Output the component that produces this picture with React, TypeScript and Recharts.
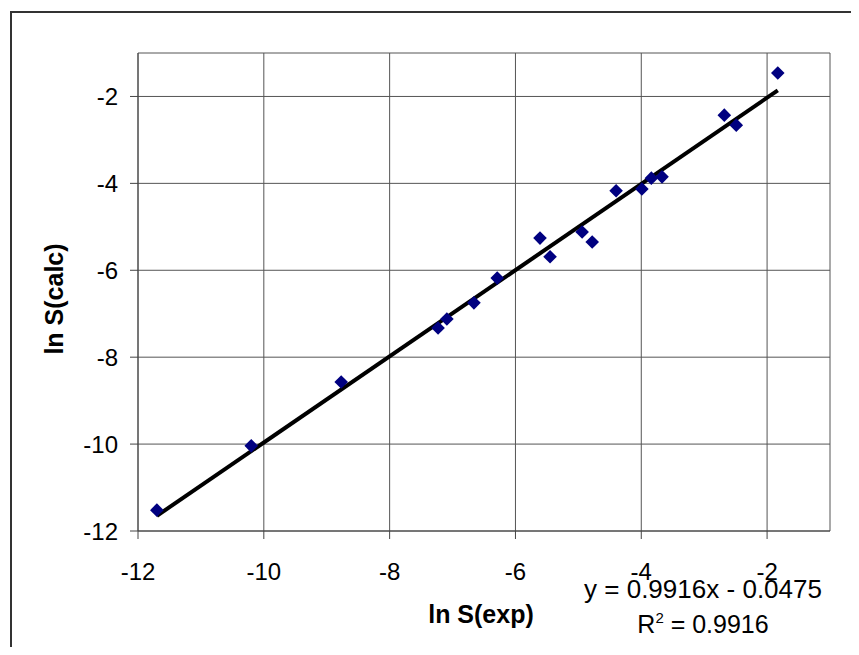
import React from 'react';
import { ComposedChart, Scatter, Line, XAxis, YAxis, CartesianGrid, Customized } from 'recharts';

const expValues = [-11.70, -10.20, -8.77, -7.23, -7.09, -6.66, -6.29, -5.61, -5.45, -4.94, -4.78, -4.40, -3.99, -3.84, -3.67, -2.68, -2.49, -1.83];
const calcValues = [-11.52, -10.04, -8.57, -7.33, -7.12, -6.75, -6.18, -5.26, -5.69, -5.12, -5.35, -4.17, -4.13, -3.88, -3.85, -2.43, -2.66, -1.46];
const trendX = [-11.70, -1.83];
const trendY = [-11.65, -1.86];
const axisTicks = [-12, -10, -8, -6, -4, -2];
const xTitle = 'ln S(exp)';
const yTitle = 'ln S(calc)';
const eqText = 'y = 0.9916x - 0.0475';
const r2Value = ' = 0.9916';

const points = expValues.map((x, i) => ({ x, y: calcValues[i] }));
const trend = trendX.map((x, i) => ({ x, y: trendY[i] }));

const FONT = '"Liberation Sans", Arial, sans-serif';

const Diamond = (props: any) => {
  const { cx, cy } = props;
  const r = 6.8;
  return <path d={`M${cx},${cy - r}L${cx + r},${cy}L${cx},${cy + r}L${cx - r},${cy}Z`} fill="#000080" />;
};

const Texts = () => (
  <g fontFamily={FONT} fill="#000">
    <text x={473} y={615} textAnchor="middle" fontSize={25} fontWeight="bold">{xTitle}</text>
    <text x={55} y={291} textAnchor="middle" fontSize={25} fontWeight="bold" transform="rotate(-90 55 291)">{yTitle}</text>
    <text x={695} y={590} textAnchor="middle" fontSize={25} textLength={238} lengthAdjust="spacingAndGlyphs">{eqText}</text>
    <text x={695} y={625} textAnchor="middle" fontSize={25}>
      R<tspan dy={-10} fontSize={15}>2</tspan><tspan dy={10}>{r2Value}</tspan>
    </text>
  </g>
);

export default function App() {
  return (
    <div style={{ position: 'relative', width: 843, height: 639, overflow: 'hidden', background: '#fff' }}>
      <div style={{ position: 'absolute', left: 2, top: 3, width: 1000, height: 1000, borderLeft: '2px solid #333', borderTop: '2px solid #333' }} />
      <div style={{ position: 'absolute', left: 0, top: 0 }}>
        <ComposedChart width={843} height={639} margin={{ top: 45, right: 21, bottom: 0, left: 0 }}>
          <CartesianGrid stroke="#555" horizontal vertical />
          <XAxis
            type="number"
            dataKey="x"
            domain={[-12, -1]}
            ticks={axisTicks}
            interval={0}
            allowDataOverflow
            height={116}
            tickSize={8}
            tickMargin={24}
            stroke="#444"
            tick={{ fill: '#000', fontSize: 24, fontFamily: FONT }}
          />
          <YAxis
            type="number"
            dataKey="y"
            domain={[-12, -1]}
            ticks={axisTicks}
            interval={0}
            allowDataOverflow
            width={130}
            tickSize={8}
            tickMargin={12}
            stroke="#444"
            tick={{ fill: '#000', fontSize: 24, fontFamily: FONT }}
          />
          <Scatter data={points} dataKey="y" shape={<Diamond />} isAnimationActive={false} />
          <Line data={trend} dataKey="y" stroke="#000" strokeWidth={4} dot={false} activeDot={false} isAnimationActive={false} />
          <Customized component={Texts} />
        </ComposedChart>
      </div>
    </div>
  );
}
